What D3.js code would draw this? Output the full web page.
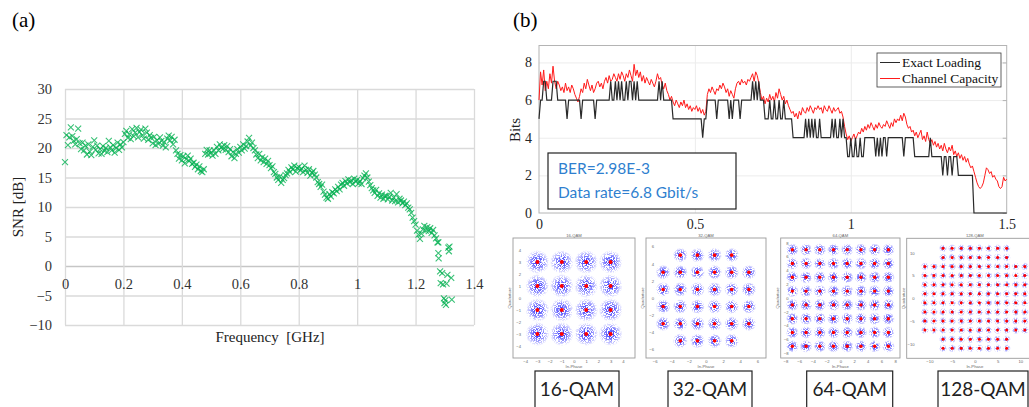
<!DOCTYPE html>
<html>
<head>
<meta charset="utf-8">
<script src="https://cdn.jsdelivr.net/npm/d3@7"></script>
<style>
html, body { margin: 0; padding: 0; background: #fff; }
svg { display: block; }
</style>
</head>
<body>
<svg id="fig" width="1029" height="407"></svg>
<script>
// ---------------- data: panel (a) SNR per subcarrier ----------------
var snrStep = 0.005;   // GHz between subcarriers
var snrDb = [
  17.6, 22.2, 20.5, 21.8, 23.5, 22.0, 21.2, 20.6, 21.5, 23.3, 20.8, 19.8, 20.9, 19.6, 20.4, 18.9, 20.6, 19.4, 18.8, 20.2,
  21.3, 19.7, 20.4, 19.1, 19.8, 19.0, 20.3, 19.5, 20.0, 19.3, 21.2, 20.1, 19.6, 20.5, 19.2, 20.0, 20.9, 19.7, 20.6, 20.1,
  21.0, 22.4, 22.9, 21.7, 22.3, 21.5, 23.2, 22.0, 22.6, 23.4, 21.8, 22.7, 23.1, 22.2, 21.6, 23.3, 22.6, 21.4, 22.2, 21.7,
  20.8, 21.9, 20.5, 21.3, 20.7, 21.8, 21.2, 20.4, 21.0, 20.1, 21.6, 22.1, 21.3, 21.9, 20.6, 21.4, 19.6, 19.0, 18.2, 18.8,
  17.9, 18.6, 17.4, 18.1, 18.7, 17.8, 18.2, 17.3, 17.5, 16.8, 17.2, 16.4, 16.9, 16.1, 15.9, 16.4, 19.0, 19.7, 18.9, 19.6,
  19.2, 18.7, 19.6, 19.0, 20.2, 19.6, 20.6, 20.1, 19.8, 20.5, 19.7, 20.3, 19.3, 19.8, 18.6, 19.3, 18.3, 19.0, 19.8, 19.2,
  20.2, 19.6, 20.6, 19.9, 20.3, 21.1, 21.7, 20.4, 20.9, 20.0, 19.6, 18.9, 18.3, 19.0, 17.9, 18.4, 17.6, 18.2, 17.3, 17.8,
  17.1, 16.6, 16.9, 15.9, 15.6, 15.0, 14.6, 15.2, 14.1, 14.6, 14.9, 15.4, 15.7, 16.3, 15.9, 16.7, 16.4, 17.0, 16.0, 16.6,
  16.8, 16.2, 16.5, 15.9, 17.0, 16.3, 15.8, 16.4, 15.3, 15.8, 16.1, 15.5, 15.0, 14.2, 13.9, 13.4, 13.8, 12.6, 12.1, 11.6,
  11.4, 12.2, 11.8, 12.5, 12.3, 13.0, 12.7, 13.4, 13.0, 13.8, 14.1, 13.6, 14.4, 14.0, 14.7, 14.2, 14.5, 13.9, 14.8, 14.3,
  14.6, 14.0, 14.4, 13.9, 14.9, 15.3, 15.7, 15.0, 14.3, 13.7, 13.2, 12.8, 12.4, 12.9, 11.9, 12.3, 11.6, 12.1, 11.4, 11.9,
  11.9, 11.3, 11.7, 12.4, 11.1, 11.6, 11.0, 12.2, 10.8, 11.4, 11.1, 10.6, 10.9, 10.3, 10.6, 9.9, 9.6, 9.0, 8.2, 7.6,
  7.0, 6.0, 5.3, 4.6, 5.5, 6.2, 6.8, 6.0, 6.6, 5.9, 6.4, 5.6, 6.1, 5.2, 4.7, 4.0
];
// scattered points at the band edge [GHz, dB]
var snrTail = [
  [1.278, 4.0], [1.278, 2.2], [1.279, 1.3], [1.284, -0.9], [1.286, -2.9], [1.291, -1.2], [1.294, -3.1],
  [1.297, -5.5], [1.299, -6.3], [1.302, -5.8], [1.304, -6.6], [1.306, -3.0], [1.309, -1.5],
  [1.312, 3.1], [1.314, 2.5], [1.316, 3.3], [1.322, -2.0], [1.324, -5.7]
];
var snrXTicks = [0, 0.2, 0.4, 0.6, 0.8, 1, 1.2, 1.4];
var snrYTicks = [-10, -5, 0, 5, 10, 15, 20, 25, 30];

// ---------------- data: panel (b) bit loading ----------------
var capStep = 0.005;   // GHz between subcarriers
var channelCapacity = [
  6.0, 7.5, 6.8, 7.6, 6.5, 7.0, 6.6, 7.4, 6.9, 7.8, 7.0, 6.6, 7.0, 6.8, 6.5, 6.7, 6.4, 6.9, 6.5, 6.7,
  6.4, 6.8, 6.6, 6.3, 6.1, 5.9, 6.2, 6.6, 6.4, 6.9, 6.6, 7.1, 6.8, 6.5, 6.8, 6.4, 6.6, 6.9, 7.0, 6.7,
  6.9, 6.6, 7.0, 7.2, 6.9, 7.3, 7.0, 7.1, 7.4, 7.2, 7.0, 7.4, 7.1, 7.5, 7.3, 7.0, 7.4, 7.2, 7.6, 7.3,
  7.0, 7.9, 7.3, 7.6, 7.2, 7.5, 7.0, 7.3, 6.9, 7.2, 7.0, 6.8, 7.1, 6.9, 6.7, 7.0, 7.4, 7.1, 7.2, 6.8,
  6.6, 6.9, 6.5, 6.3, 6.0, 6.2, 5.9, 5.7, 6.0, 5.8, 5.6, 5.9, 5.7, 6.0, 5.6, 5.8, 5.5, 5.7, 5.4, 5.6,
  5.5, 5.7, 5.4, 5.6, 5.3, 5.5, 5.2, 5.4, 6.3, 6.6, 6.4, 6.7, 6.5, 6.3, 6.6, 6.5, 6.8, 6.6, 6.9, 6.7,
  6.4, 6.6, 6.2, 6.5, 6.3, 6.1, 6.6, 6.9, 7.0, 6.8, 7.1, 6.9, 7.0, 6.8, 7.1, 7.0, 7.2, 7.4, 7.0, 7.5,
  7.3, 6.9, 6.4, 6.0, 6.2, 5.8, 6.1, 5.9, 6.3, 6.0, 6.2, 5.9, 6.4, 6.1, 6.6, 6.3, 6.0, 6.2, 5.8, 6.0,
  5.7, 5.5, 5.3, 5.4, 5.1, 5.3, 5.0, 5.4, 5.2, 5.6, 5.4, 5.3, 5.6, 5.4, 5.7, 5.5, 5.3, 5.6, 5.5, 5.7,
  5.5, 5.6, 5.3, 5.7, 5.5, 5.4, 5.7, 5.5, 5.3, 5.6, 5.4, 5.5, 5.6, 5.3, 5.4, 5.1, 4.6, 4.2, 3.9, 4.1,
  3.8, 4.0, 4.2, 3.9, 4.1, 4.3, 4.2, 4.5, 4.3, 4.6, 4.4, 4.7, 4.5, 4.8, 4.6, 4.4, 4.7, 4.5, 4.8, 4.6,
  4.5, 4.7, 4.6, 4.9, 4.7, 4.5, 4.8, 4.6, 5.0, 4.8, 5.0, 4.9, 5.2, 4.9, 5.3, 5.1, 4.7, 4.5, 4.6, 4.3,
  4.4, 4.1, 4.3, 4.0, 4.2, 4.4, 3.9, 4.1, 3.8, 4.3, 3.9, 3.7, 3.9, 3.6, 3.8, 3.5, 3.7, 3.4, 3.6, 3.3,
  3.7, 3.4, 3.2, 3.5, 3.3, 3.6, 3.1, 3.3, 3.0, 3.2, 2.9, 3.1, 2.8, 3.0, 2.7, 2.9, 2.6, 2.4, 2.5, 2.2,
  1.9, 1.6, 1.4, 1.3, 1.4, 1.6, 2.0, 2.4, 2.3, 2.1, 2.2, 1.9, 2.0, 1.8, 1.7, 1.4, 1.3, 1.4, 1.9, 1.7, 1.8
];
// exact loading: plateaus [from GHz, to GHz, bits] and single-subcarrier spikes [GHz, bits]
var loadingPlateaus = [
  [0, 0.005, 5], [0.005, 0.43, 6], [0.43, 0.54, 5], [0.54, 0.725, 6], [0.725, 0.815, 5],
  [0.815, 0.99, 4], [0.99, 1.045, 3], [1.045, 1.205, 4], [1.205, 1.345, 3], [1.345, 1.395, 2], [1.395, 1.51, 0]
];
var loadingSpikes = [
  [0.015, 7], [0.02, 7], [0.045, 7], [0.05, 7], [0.055, 7], [0.09, 5], [0.135, 5], [0.18, 5],
  [0.23, 7], [0.245, 7], [0.255, 7], [0.265, 7], [0.28, 7], [0.29, 7], [0.295, 7], [0.305, 7], [0.315, 7],
  [0.385, 7], [0.395, 7], [0.525, 4],
  [0.57, 5], [0.61, 5], [0.62, 5], [0.645, 5], [0.685, 7], [0.695, 7], [0.705, 7],
  [0.74, 6], [0.755, 6], [0.77, 6], [0.785, 6],
  [0.855, 5], [0.865, 5], [0.875, 5], [0.885, 5], [0.9, 5], [0.94, 5], [0.95, 5], [0.965, 5], [0.975, 5],
  [1.0, 4], [1.015, 4], [1.03, 4],
  [1.08, 3], [1.09, 3], [1.1, 3], [1.115, 3], [1.17, 3],
  [1.255, 4], [1.295, 2], [1.31, 2], [1.325, 2]
];
var bitsXTicks = [0, 0.5, 1, 1.5];
var bitsYTicks = [0, 2, 4, 6, 8];
var berText = ["BER=2.98E-3", "Data rate=6.8 Gbit/s"];
var legendNames = ["Exact Loading", "Channel Capacity"];

// ---------------- data: constellations ----------------
var qamNames = ["16-QAM", "32-QAM", "64-QAM", "128-QAM"];
var qamLevels = [
  [-3, -1, 1, 3],
  [-5, -3, -1, 1, 3, 5],
  [-7, -5, -3, -1, 1, 3, 5, 7],
  [-11, -9, -7, -5, -3, -1, 1, 3, 5, 7, 9, 11]
];
var qamCornerCut = [99, 5, 99, 9];     // points with |I| and |Q| both >= this are absent (cross shapes)
var qamLimitI = [5, 7, 8.7, 15];
var qamLimitQ = [5, 7, 8.7, 13.2];
var qamTicks = [
  [-4, -3, -2, -1, 0, 1, 2, 3, 4],
  [-6, -4, -2, 0, 2, 4, 6],
  [-8, -6, -4, -2, 0, 2, 4, 6, 8],
  [-10, -5, 0, 5, 10]
];

// ---------------- layout ----------------
var serif = "'Liberation Serif', 'Times New Roman', serif";
var sans = "Lato, 'Open Sans', 'Liberation Sans', sans-serif";
var qamBoxes = [
  { x: 513, y: 238, w: 122, h: 120 },
  { x: 646, y: 238, w: 120, h: 120 },
  { x: 780.7, y: 238, w: 119.3, h: 120 },
  { x: 906.7, y: 238.3, w: 136.3, h: 120 }
];
var qamLabelBoxes = [
  { x: 535, w: 84 },
  { x: 668, w: 84 },
  { x: 806.7, w: 86 },
  { x: 938, w: 90 }
];
var qamCloudR = [12, 7.5, 6.5, 4.2];
var qamCloudOpacity = [1, 1, 1, 0.7];
var qamDotR = [2, 1.8, 1.7, 1.5];

var svg = d3.select("#fig");
var defs = svg.append("defs");

var grad = defs.append("radialGradient").attr("id", "cloud");
grad.append("stop").attr("offset", "0%").attr("stop-color", "#1010ff").attr("stop-opacity", 0.95);
grad.append("stop").attr("offset", "55%").attr("stop-color", "#3030ff").attr("stop-opacity", 0.55);
grad.append("stop").attr("offset", "100%").attr("stop-color", "#6060ff").attr("stop-opacity", 0);

// speckle texture so the noise clouds look like scattered samples
var speck = defs.append("filter").attr("id", "speckle")
  .attr("x", "-5%").attr("y", "-5%").attr("width", "110%").attr("height", "110%")
  .attr("color-interpolation-filters", "sRGB");
speck.append("feTurbulence").attr("type", "fractalNoise").attr("baseFrequency", 1.1)
  .attr("numOctaves", 2).attr("seed", 4).attr("result", "n");
speck.append("feColorMatrix").attr("in", "n").attr("type", "matrix")
  .attr("values", "0 0 0 0 0  0 0 0 0 0  0 0 0 0 0  12 0 0 0 -5.4").attr("result", "m");
speck.append("feComposite").attr("in", "SourceGraphic").attr("in2", "m").attr("operator", "in");

// panel letters
svg.append("text").attr("x", 12).attr("y", 27).attr("font-family", serif).attr("font-size", 21).text("(a)");
svg.append("text").attr("x", 513).attr("y", 27).attr("font-family", serif).attr("font-size", 21).text("(b)");

// =============== panel (a) ===============
var xA = d3.scaleLinear().domain([0, 1.4]).range([65, 474]);
var yA = d3.scaleLinear().domain([-10, 30]).range([325, 89]);
var gA = svg.append("g");

gA.append("g")
  .call(d3.axisLeft(yA).tickValues(snrYTicks).tickSize(-(xA(1.4) - xA(0))).tickFormat(""))
  .attr("transform", "translate(" + xA(0) + ",0)")
  .call(function(g) {
    g.select(".domain").remove();
    g.selectAll("line").attr("stroke", function(d) { return d === 0 ? "#c6c6c6" : "#dadada"; }).attr("stroke-width", 1.3);
  });
gA.append("g")
  .call(d3.axisBottom(xA).tickValues(snrXTicks).tickSize(-(yA(-10) - yA(30))).tickFormat(""))
  .attr("transform", "translate(0," + yA(-10) + ")")
  .call(function(g) {
    g.select(".domain").remove();
    g.selectAll("line").attr("stroke", "#dadada").attr("stroke-width", 1.3);
  });

gA.append("g")
  .attr("transform", "translate(" + xA(0) + ",0)")
  .call(d3.axisLeft(yA).tickValues(snrYTicks).tickSize(0).tickPadding(13))
  .call(function(g) {
    g.select(".domain").remove();
    g.selectAll("text").attr("font-family", serif).attr("font-size", 14.5).attr("fill", "#333");
  });
gA.append("g")
  .attr("transform", "translate(0," + yA(0) + ")")
  .call(d3.axisBottom(xA).tickValues(snrXTicks).tickSize(0).tickPadding(13)
    .tickFormat(function(d) { return String(+d.toFixed(1)); }))
  .call(function(g) {
    g.select(".domain").remove();
    g.selectAll("text").attr("font-family", serif).attr("font-size", 14.5).attr("fill", "#333");
  });

var snrPts = snrDb.map(function(v, i) { return [i * snrStep, v]; }).concat(snrTail);
gA.append("g").selectAll("path").data(snrPts).enter().append("path")
  .attr("transform", function(d) { return "translate(" + xA(d[0]) + "," + yA(d[1]) + ")"; })
  .attr("d", "M-3,-3L3,3M-3,3L3,-3")
  .attr("stroke", "#00b050").attr("stroke-width", 1.1).attr("stroke-opacity", 0.78).attr("fill", "none");

gA.append("text").attr("x", 270).attr("y", 342).attr("text-anchor", "middle")
  .attr("font-family", serif).attr("font-size", 15).attr("fill", "#222")
  .attr("xml:space", "preserve").text("Frequency  [GHz]");
gA.append("text").attr("transform", "translate(23,207) rotate(-90)").attr("text-anchor", "middle")
  .attr("font-family", serif).attr("font-size", 15).attr("fill", "#222").text("SNR [dB]");

// =============== panel (b) ===============
var xB = d3.scaleLinear().domain([0, 1.5]).range([539, 1006.7]);
var yB = d3.scaleLinear().domain([0, 8.9]).range([213, 45.5]);
var gB = svg.append("g");

gB.append("g")
  .attr("transform", "translate(" + xB(0) + ",0)")
  .call(d3.axisLeft(yB).tickValues(bitsYTicks.slice(1)).tickSize(-(xB(1.5) - xB(0))).tickFormat(""))
  .call(function(g) { g.select(".domain").remove(); g.selectAll("line").attr("stroke", "#ececec"); });
gB.append("g")
  .attr("transform", "translate(0," + yB(0) + ")")
  .call(d3.axisBottom(xB).tickValues([0.5, 1]).tickSize(-(yB(0) - yB(8.9))).tickFormat(""))
  .call(function(g) { g.select(".domain").remove(); g.selectAll("line").attr("stroke", "#ececec"); });

gB.append("rect").attr("x", xB(0)).attr("y", yB(8.9)).attr("width", xB(1.5) - xB(0)).attr("height", yB(0) - yB(8.9))
  .attr("fill", "none").attr("stroke", "#b4b4b4").attr("stroke-width", 1);

// small inward ticks on the right edge
gB.append("g")
  .attr("transform", "translate(" + xB(1.5) + ",0)")
  .call(d3.axisRight(yB).tickValues(bitsYTicks).tickSize(-4).tickFormat(""))
  .call(function(g) { g.select(".domain").remove(); g.selectAll("line").attr("stroke", "#b4b4b4"); });

gB.append("g")
  .attr("transform", "translate(" + xB(0) + ",0)")
  .call(d3.axisLeft(yB).tickValues(bitsYTicks).tickSize(0).tickPadding(7))
  .call(function(g) {
    g.select(".domain").remove();
    g.selectAll("text").attr("font-family", serif).attr("font-size", 14).attr("fill", "#262626");
  });
gB.append("g")
  .attr("transform", "translate(0," + yB(0) + ")")
  .call(d3.axisBottom(xB).tickValues(bitsXTicks).tickSize(0).tickPadding(6).tickFormat(d3.format("")))
  .call(function(g) {
    g.select(".domain").remove();
    g.selectAll("text").attr("font-family", serif).attr("font-size", 14).attr("fill", "#262626");
  });

gB.append("text").attr("transform", "translate(520,130) rotate(-90)").attr("text-anchor", "middle")
  .attr("font-family", serif).attr("font-size", 15).attr("fill", "#222").text("Bits");

// exact loading per subcarrier from plateaus and spikes
var loading = channelCapacity.map(function(c, i) {
  var f = i * capStep;
  var lvl = loadingPlateaus.find(function(p) { return f >= p[0] - 1e-9 && f < p[1] - 1e-9; });
  var s = loadingSpikes.find(function(p) { return Math.abs(p[0] - f) < 1e-6; });
  return [f, s ? s[1] : lvl[2]];
});

var lineB = d3.line().x(function(d) { return xB(d[0]); }).y(function(d) { return yB(d[1]); });
gB.append("path").datum(channelCapacity.map(function(v, i) { return [i * capStep, v]; }))
  .attr("d", lineB).attr("fill", "none").attr("stroke", "#ff1a1a").attr("stroke-width", 1);
gB.append("path").datum(loading)
  .attr("d", lineB).attr("fill", "none").attr("stroke", "#2a2a2a").attr("stroke-width", 1.2);

// legend
var leg = gB.append("g").attr("transform", "translate(877,53)");
leg.append("rect").attr("width", 124).attr("height", 34).attr("fill", "#fff").attr("stroke", "#3a3a3a").attr("stroke-width", 0.8);
var legColors = ["#2a2a2a", "#ff1a1a"];
legendNames.forEach(function(name, i) {
  leg.append("line").attr("x1", 3).attr("x2", 23).attr("y1", 9.5 + i * 16).attr("y2", 9.5 + i * 16)
    .attr("stroke", legColors[i]).attr("stroke-width", 1);
  leg.append("text").attr("x", 25).attr("y", 9.5 + i * 16).attr("dy", "0.35em")
    .attr("font-family", serif).attr("font-size", 13.5).attr("fill", "#111").text(name);
});

// BER box
var ber = gB.append("g").attr("transform", "translate(548,153)");
ber.append("rect").attr("width", 188).attr("height", 56).attr("fill", "#fff").attr("stroke", "#222").attr("stroke-width", 1.2);
berText.forEach(function(t, i) {
  ber.append("text").attr("x", 10).attr("y", 16 + i * 24).attr("dy", "0.35em")
    .attr("font-family", sans).attr("font-size", 15.5).attr("fill", "#2f7fcf").text(t);
});

// =============== constellations ===============
qamNames.forEach(function(name, k) {
  var b = qamBoxes[k];
  var sx = d3.scaleLinear().domain([-qamLimitI[k], qamLimitI[k]]).range([b.x, b.x + b.w]);
  var sy = d3.scaleLinear().domain([-qamLimitQ[k], qamLimitQ[k]]).range([b.y + b.h, b.y]);
  var lv = qamLevels[k];
  var pts = d3.cross(lv, lv).filter(function(p) {
    return !(Math.abs(p[0]) >= qamCornerCut[k] && Math.abs(p[1]) >= qamCornerCut[k]);
  });
  var g = svg.append("g");
  g.append("rect").attr("x", b.x).attr("y", b.y).attr("width", b.w).attr("height", b.h)
    .attr("fill", "#fff").attr("stroke", "#9a9a9a").attr("stroke-width", 0.9);

  var tiny = function(sel) { return sel.attr("font-family", "'Liberation Sans', sans-serif").attr("font-size", 4.2).attr("fill", "#666"); };
  g.append("g").attr("transform", "translate(" + (b.x + 8) + ",0)")
    .call(d3.axisLeft(sy).tickValues(qamTicks[k]).tickSize(0).tickPadding(0))
    .call(function(a) { a.select(".domain").remove(); tiny(a.selectAll("text")); });
  g.append("g").attr("transform", "translate(0," + (b.y + b.h + 1) + ")")
    .call(d3.axisBottom(sx).tickValues(qamTicks[k]).tickSize(0).tickPadding(1))
    .call(function(a) { a.select(".domain").remove(); tiny(a.selectAll("text")); });
  tiny(g.append("text")).attr("x", b.x + b.w / 2).attr("y", b.y + b.h + 10).attr("text-anchor", "middle").text("In-Phase");
  tiny(g.append("text")).attr("transform", "translate(" + (b.x - 2) + "," + (b.y + b.h / 2) + ") rotate(-90)")
    .attr("text-anchor", "middle").text("Quadrature");
  tiny(g.append("text")).attr("x", b.x + b.w / 2).attr("y", b.y - 1.5).attr("text-anchor", "middle").text(name);

  g.append("g").attr("filter", "url(#speckle)").attr("opacity", qamCloudOpacity[k])
    .selectAll("circle").data(pts).enter().append("circle")
    .attr("cx", function(d) { return sx(d[0]); }).attr("cy", function(d) { return sy(d[1]); })
    .attr("r", qamCloudR[k]).attr("fill", "url(#cloud)");
  g.append("g").selectAll("circle").data(pts).enter().append("circle")
    .attr("cx", function(d) { return sx(d[0]); }).attr("cy", function(d) { return sy(d[1]); })
    .attr("r", qamDotR[k]).attr("fill", "#ff0000");

  var lb = qamLabelBoxes[k];
  g.append("rect").attr("x", lb.x).attr("y", 371).attr("width", lb.w).attr("height", 40)
    .attr("fill", "#fff").attr("stroke", "#222").attr("stroke-width", 1.2);
  g.append("text").attr("x", lb.x + lb.w / 2).attr("y", 389).attr("dy", "0.35em").attr("text-anchor", "middle")
    .attr("font-family", sans).attr("font-size", 19).attr("fill", "#222").text(name);
});
</script>
</body>
</html>
